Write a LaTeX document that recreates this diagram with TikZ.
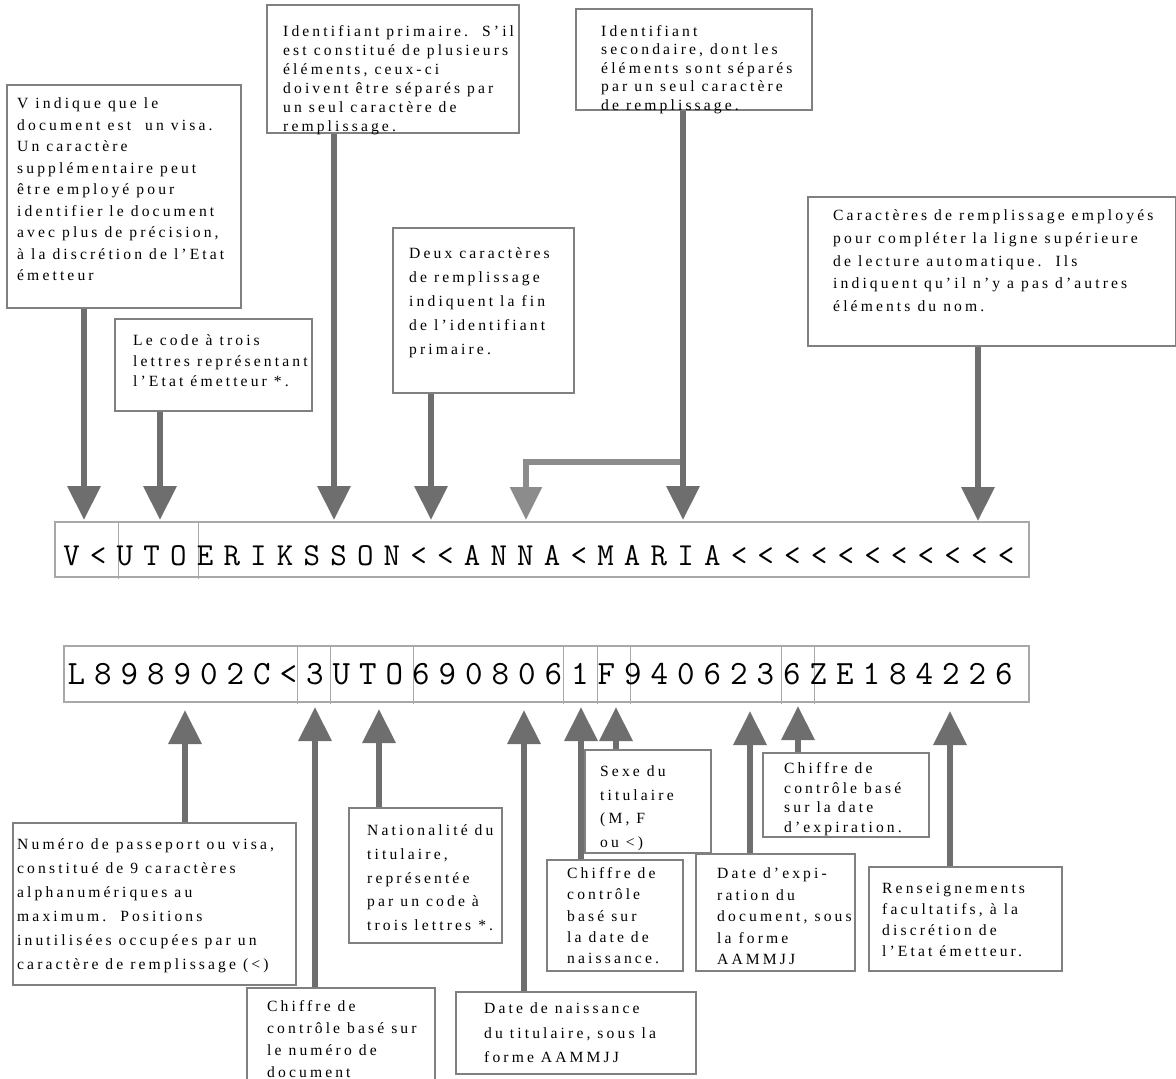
\documentclass[tikz,border=0pt]{standalone}
\usepackage{fontspec}
\setmainfont{Liberation Serif}[LetterSpace=20]
\usetikzlibrary{arrows.meta}
\definecolor{arrowgray}{HTML}{6E6E6E}
\definecolor{branchgray}{HTML}{8C8C8C}
\definecolor{boxgray}{HTML}{808080}
\definecolor{mrzgray}{HTML}{A8A8A8}
\newlength\mrzpitch
\newcommand\mrzspaced[1]{\mrzloop#1\relax}
\def\mrzloop#1{\ifx#1\relax\else\makebox[\mrzpitch]{#1}\expandafter\mrzloop\fi}
\newcommand\lbl[2]{\fontsize{15.6}{#1}\selectfont\begin{tabular}[t]{@{}l@{}}#2\end{tabular}}
\tikzset{
  box/.style={draw=boxgray, line width=1.2pt, inner sep=0pt, rectangle},
  lab/.style={anchor=base west, inner sep=0pt},
  arr/.style={draw=arrowgray, line width=6.5pt, -{Triangle[width=32pt,length=34pt]}},
  brarr/.style={draw=branchgray, line width=5.5pt, -{Triangle[width=31pt,length=33pt]}},
  mrzbox/.style={draw=mrzgray, line width=1.2pt, inner sep=0pt, rectangle},
  divider/.style={draw=mrzgray, line width=1pt},
  mrztext/.style={anchor=base west, inner sep=0pt}
}
\begin{document}
\begin{tikzpicture}[x=1pt,y=-1pt]
\useasboundingbox (0,0) rectangle (1176,1079);

% ---------- top boxes ----------
\node[box, minimum width=234pt, minimum height=223pt] (bV) at (124,196.5) {};
\node[lab] (tV) at (17,108.5) {\lbl{21.5}{V indique que le\\document est\ \ un visa.\\Un caractère\\supplémentaire peut\\être employé pour\\identifier le document\\avec plus de précision,\\à la discrétion de l’Etat\\émetteur}};

\node[box, minimum width=197pt, minimum height=92pt] (bCode) at (213.5,365) {};
\node[lab] (tCode) at (133,345.5) {\lbl{20.5}{Le code à trois\\lettres représentant\\l’Etat émetteur *.}};

\node[box, minimum width=252pt, minimum height=128pt] (bPrim) at (393,69) {};
\node[lab] (tPrim) at (283,36) {\lbl{19}{Identifiant primaire.\ \ S’il\\est constitué de plusieurs\\éléments, ceux-ci\\doivent être séparés par\\un seul caractère de\\remplissage.}};

\node[box, minimum width=236pt, minimum height=101pt] (bSec) at (694,59.5) {};
\node[lab] (tSec) at (601,36) {\lbl{18.5}{Identifiant\\secondaire, dont les\\éléments sont séparés\\par un seul caractère\\de remplissage.}};

\node[box, minimum width=181pt, minimum height=165pt] (bDeux) at (483.5,310.5) {};
\node[lab] (tDeux) at (409,258.5) {\lbl{24}{Deux caractères\\de remplissage\\indiquent la fin\\de l’identifiant\\primaire.}};

\node[box, minimum width=368pt, minimum height=149pt] (bCar) at (992,271.5) {};
\node[lab] (tCar) at (833,220.5) {\lbl{22.75}{Caractères de remplissage employés\\pour compléter la ligne supérieure\\de lecture automatique.\ \ Ils\\indiquent qu’il n’y a pas d’autres\\éléments du nom.}};

% ---------- MRZ lines ----------
\node[mrzbox, minimum width=974pt, minimum height=55pt] (m1) at (542,549.5) {};
\draw[divider] (m1.north west) ++(64,0) -- ++(0,58);
\draw[divider] (m1.north west) ++(144,0) -- ++(0,58);
\node[mrztext] (m1t) at (58,565) {\ttfamily\fontsize{32}{32}\selectfont\setlength\mrzpitch{26.7pt}\mrzspaced{V<UTOERIKSSON<<ANNA<MARIA<<<<<<<<<<<}};

\node[mrzbox, minimum width=965pt, minimum height=56pt] (m2) at (546.5,674) {};
\foreach \dx in {234,267,350,500,534,567,718,751}
  \draw[divider] (m2.north west) ++(\dx,0) -- ++(0,59);
\node[mrztext] (m2t) at (63,684) {\ttfamily\fontsize{34}{34}\selectfont\setlength\mrzpitch{26.5pt}\mrzspaced{L898902C<3UTO6908061F9406236ZE184226}};

% ---------- bottom boxes ----------
\node[box, minimum width=283pt, minimum height=162pt] (bNum) at (154.5,904) {};
\node[lab] (tNum) at (17,849.5) {\lbl{24}{Numéro de passeport ou visa,\\constitué de 9 caractères\\alphanumériques au\\maximum.\ \ Positions\\inutilisées occupées par un\\caractère de remplissage (<)}};

\node[box, minimum width=153pt, minimum height=135pt] (bNat) at (425.5,875.5) {};
\node[lab] (tNat) at (367,835.5) {\lbl{23.75}{Nationalité du\\titulaire,\\représentée\\par un code à\\trois lettres *.}};

\node[box, minimum width=188pt, minimum height=102pt] (bChkA) at (341,1039) {};
\node[lab] (tChkA) at (267,1011.5) {\lbl{22}{Chiffre de\\contrôle basé sur\\le numéro de\\document}};

\node[box, minimum width=240pt, minimum height=82pt] (bDob) at (576,1033) {};
\node[lab] (tDob) at (484,1013.5) {\lbl{24.5}{Date de naissance\\du titulaire, sous la\\forme AAMMJJ}};

\node[box, minimum width=126pt, minimum height=103pt] (bSex) at (648,801.5) {};
\node[lab] (tSex) at (600,776.5) {\lbl{23.7}{Sexe du\\titulaire\\(M, F\\ou <)}};

\node[box, minimum width=136pt, minimum height=111pt] (bChkB) at (615,915.5) {};
\node[lab] (tChkB) at (567,878.5) {\lbl{21.25}{Chiffre de\\contrôle\\basé sur\\la date de\\naissance.}};

\node[box, minimum width=159pt, minimum height=117pt] (bExp) at (775.5,912.5) {};
\node[lab] (tExp) at (717,878.5) {\lbl{21.5}{Date d’expi-\\ration du\\document, sous\\la forme\\AAMMJJ}};

\node[box, minimum width=166pt, minimum height=84pt] (bChkC) at (846,795) {};
\node[lab] (tChkC) at (784,773.5) {\lbl{19.7}{Chiffre de\\contrôle basé\\sur la date\\d’expiration.}};

\node[box, minimum width=193pt, minimum height=104pt] (bRen) at (965.5,919) {};
\node[lab] (tRen) at (882,893.5) {\lbl{21}{Renseignements\\facultatifs, à la\\discrétion de\\l’Etat émetteur.}};

% ---------- arrows to line 1 ----------
\coordinate (aV) at (84,520);
\coordinate (aCode) at (160,520);
\coordinate (aPrim) at (334,520);
\coordinate (aDeux) at (431,520);
\coordinate (aAnna) at (526,520);
\coordinate (aMaria) at (683,520);
\coordinate (jn) at (683,462);
\coordinate (aCar) at (978,521);
\draw[arr] (aV |- bV.south) -- (aV);
\draw[arr] (aCode |- bCode.south) -- (aCode);
\draw[arr] (aPrim |- bPrim.south) -- (aPrim);
\draw[arr] (aDeux |- bDeux.south) -- (aDeux);
\draw[brarr] (jn) -| (aAnna);
\draw[arr] (aMaria |- bSec.south) -- (aMaria);
\draw[arr] (aCar |- bCar.south) -- (aCar);

% ---------- arrows to line 2 ----------
\coordinate (aNum) at (185,710);
\coordinate (aChkA) at (315,707);
\coordinate (aNat) at (379,709);
\coordinate (aDob) at (524,710);
\coordinate (aChkB) at (581,707);
\coordinate (aSex) at (616,707);
\coordinate (aExp) at (750,711);
\coordinate (aChkC) at (798,706);
\coordinate (aRen) at (950,711);
\draw[arr] (aNum |- bNum.north) -- (aNum);
\draw[arr] (aChkA |- bChkA.north) -- (aChkA);
\draw[arr] (aNat |- bNat.north) -- (aNat);
\draw[arr] (aDob |- bDob.north) -- (aDob);
\draw[arr] (aChkB |- bChkB.north) -- (aChkB);
\draw[arr] (aSex |- bSex.north) -- (aSex);
\draw[arr] (aExp |- bExp.north) -- (aExp);
\draw[arr] (aChkC |- bChkC.north) -- (aChkC);
\draw[arr] (aRen |- bRen.north) -- (aRen);
\end{tikzpicture}
\end{document}
